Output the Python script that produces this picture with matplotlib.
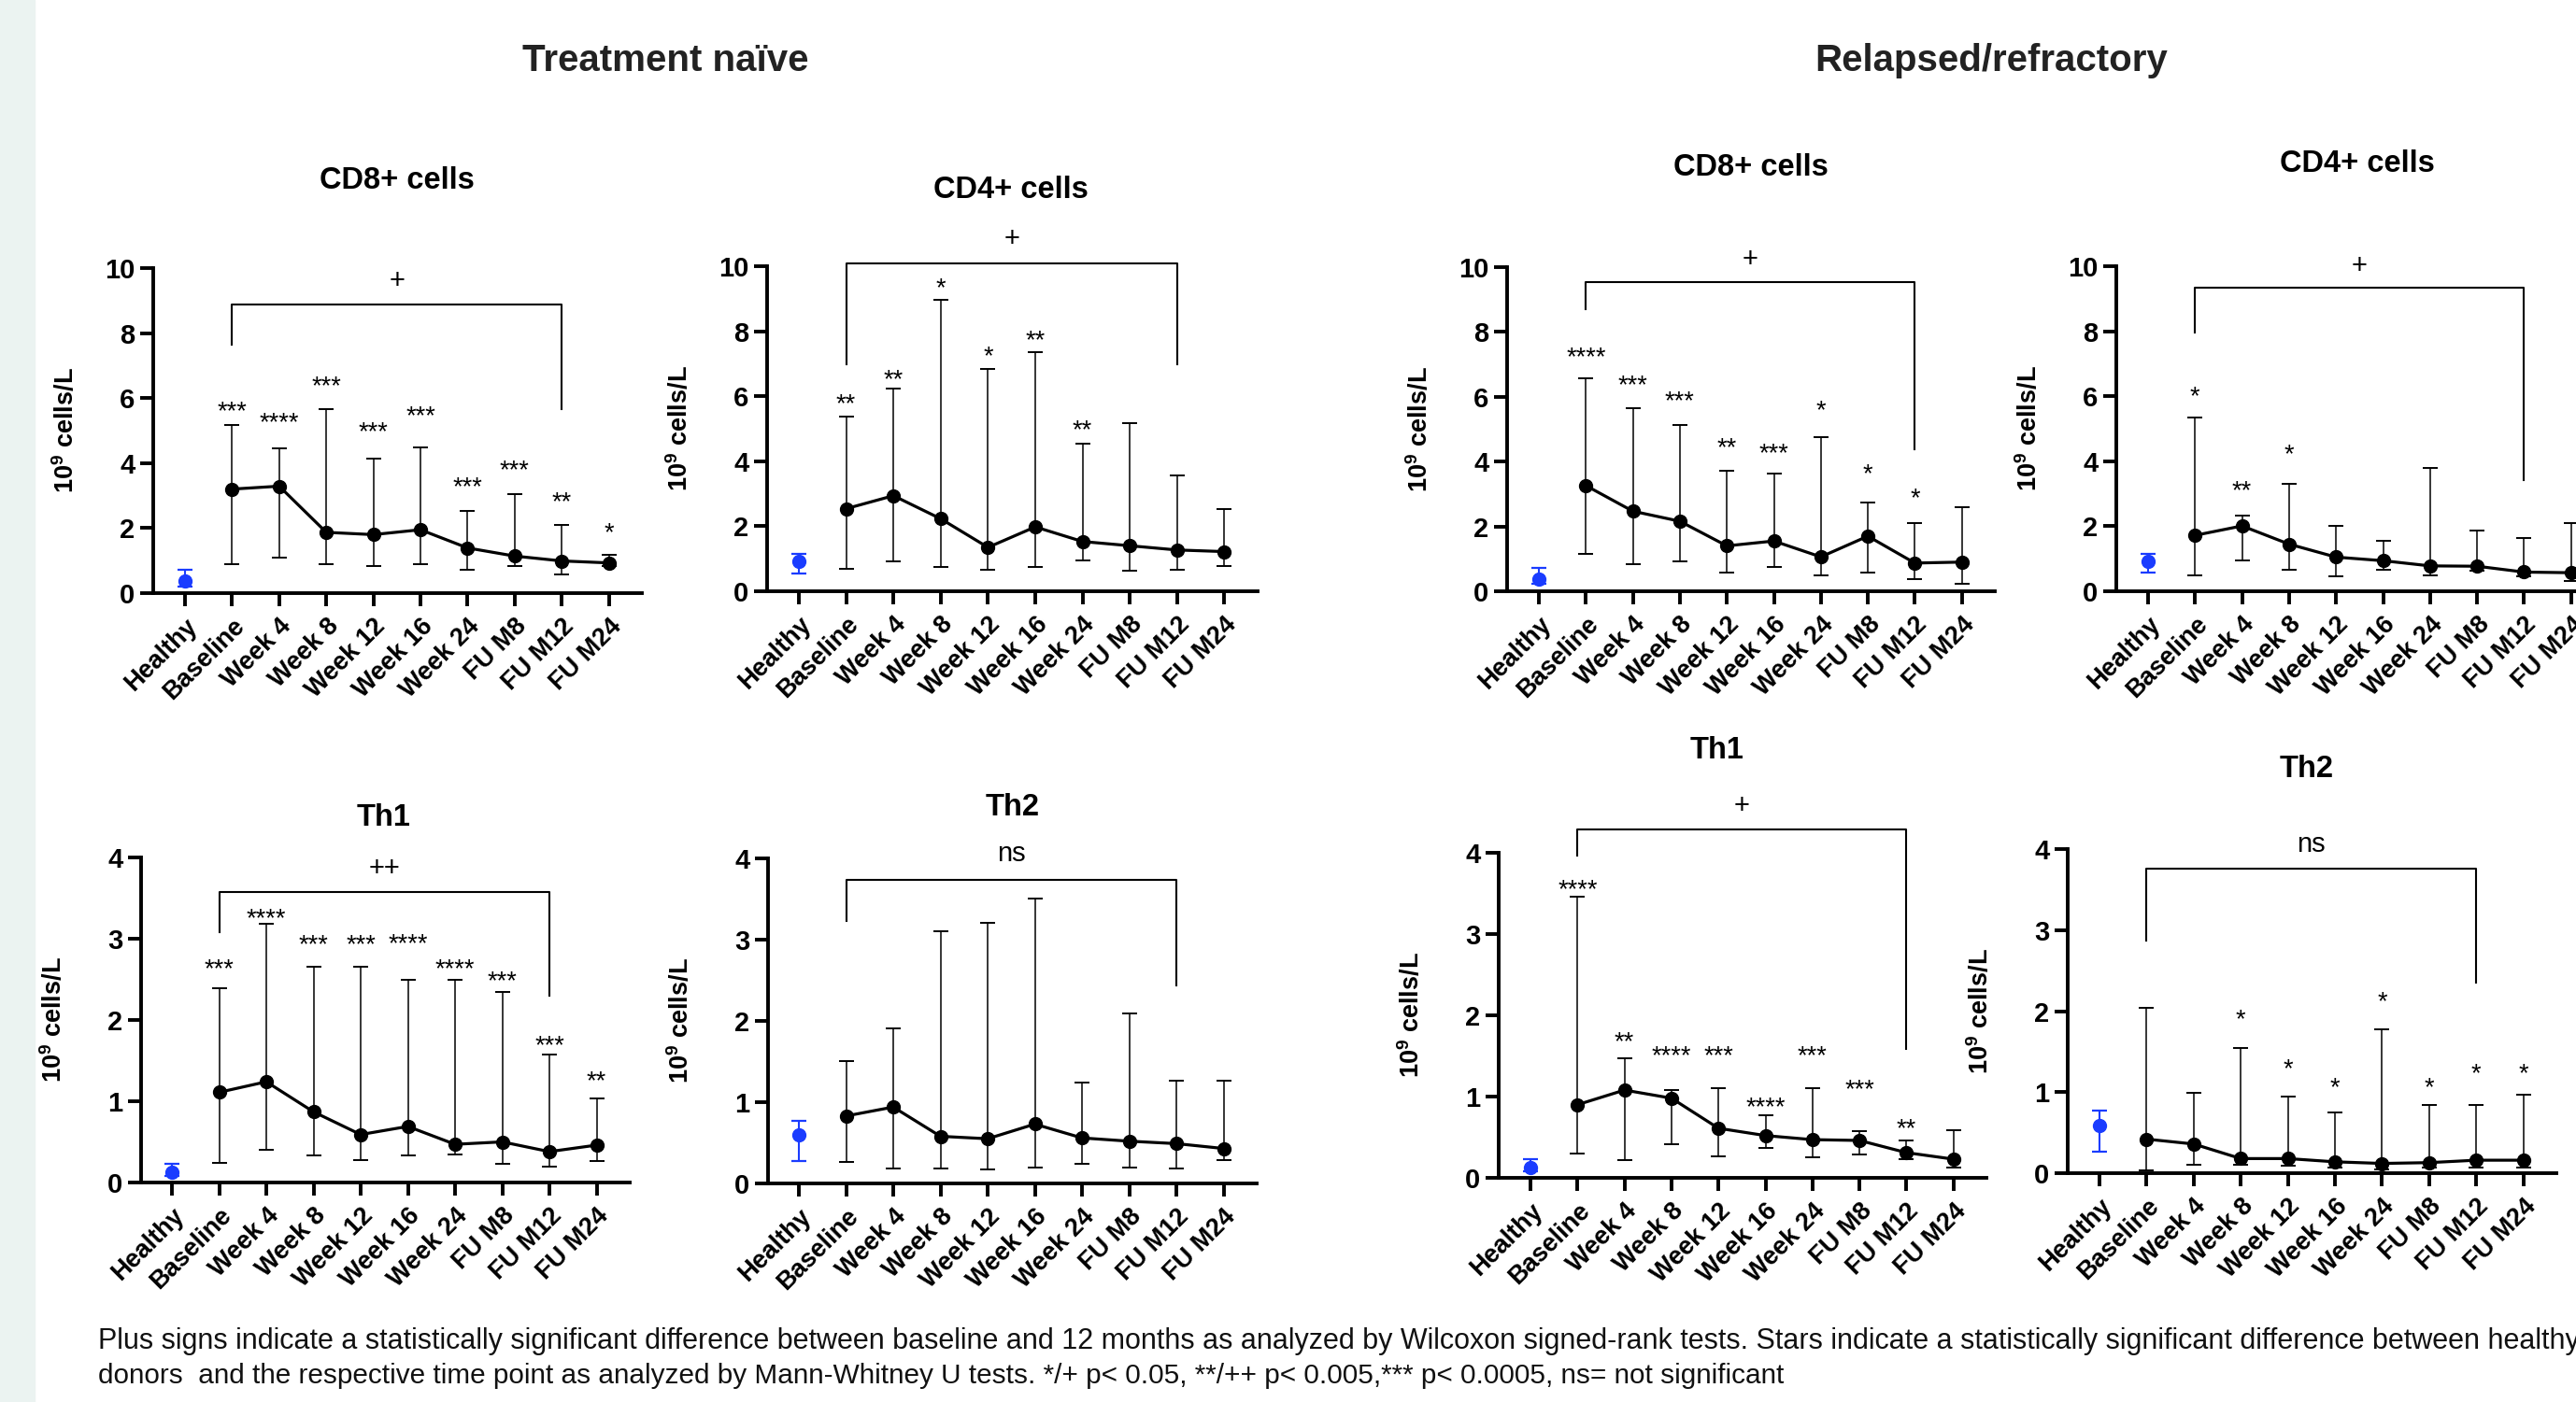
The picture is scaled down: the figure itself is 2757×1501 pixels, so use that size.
import numpy as np
import matplotlib.pyplot as plt
from matplotlib.patches import Rectangle

plt.rcParams['font.family'] = ['Liberation Sans', 'DejaVu Sans']
plt.rcParams['mathtext.fontset'] = 'custom'
plt.rcParams['mathtext.rm'] = 'Liberation Sans'
plt.rcParams['mathtext.bf'] = 'Liberation Sans:bold'

W, H = 2757, 1501
BLUE = '#1a3cff'

timepoints = ['Healthy', 'Baseline', 'Week 4', 'Week 8', 'Week 12', 'Week 16',
              'Week 24', 'FU M8', 'FU M12', 'FU M24']

# ---- Treatment naive ----
tn_cd8_med = [0.36, 3.20, 3.29, 1.87, 1.80, 1.95, 1.39, 1.14, 0.99, 0.93]
tn_cd8_lo = [0.20, 0.89, 1.10, 0.89, 0.82, 0.89, 0.72, 0.84, 0.57, 0.82]
tn_cd8_hi = [0.71, 5.17, 4.46, 5.66, 4.13, 4.48, 2.54, 3.04, 2.09, 1.19]
tn_cd8_stars = ['', '***', '****', '***', '***', '***', '***', '***', '**', '*']
tn_cd8_star_y = [0, 5.82, 5.46, 6.59, 5.17, 5.67, 3.48, 3.99, 3.02, 2.07]

tn_cd4_med = [0.91, 2.54, 2.94, 2.23, 1.35, 1.98, 1.53, 1.40, 1.27, 1.22]
tn_cd4_lo = [0.56, 0.69, 0.91, 0.74, 0.67, 0.76, 0.94, 0.64, 0.66, 0.79]
tn_cd4_hi = [1.14, 5.36, 6.25, 8.97, 6.84, 7.36, 4.53, 5.18, 3.55, 2.54]
tn_cd4_stars = ['', '**', '**', '*', '*', '**', '**', '', '', '']
tn_cd4_star_y = [0, 5.98, 6.74, 9.55, 7.45, 7.94, 5.19, 0, 0, 0]

tn_th1_med = [0.13, 1.11, 1.24, 0.87, 0.59, 0.69, 0.47, 0.50, 0.38, 0.46]
tn_th1_lo = [0.08, 0.24, 0.40, 0.33, 0.28, 0.33, 0.35, 0.23, 0.20, 0.26]
tn_th1_hi = [0.23, 2.39, 3.18, 2.65, 2.65, 2.50, 2.49, 2.34, 1.57, 1.04]
tn_th1_stars = ['', '***', '****', '***', '***', '****', '****', '***', '***', '**']
tn_th1_star_y = [0, 2.71, 3.34, 3.01, 3.01, 3.02, 2.71, 2.56, 1.77, 1.34]

tn_th2_med = [0.60, 0.83, 0.94, 0.58, 0.55, 0.73, 0.56, 0.52, 0.49, 0.43]
tn_th2_lo = [0.28, 0.26, 0.18, 0.18, 0.17, 0.19, 0.24, 0.19, 0.18, 0.29]
tn_th2_hi = [0.77, 1.51, 1.91, 3.10, 3.21, 3.51, 1.24, 2.09, 1.27, 1.26]
tn_th2_stars = [''] * 10
tn_th2_star_y = [0] * 10

# ---- Relapsed/refractory ----
rr_cd8_med = [0.38, 3.26, 2.47, 2.16, 1.40, 1.55, 1.06, 1.70, 0.87, 0.90]
rr_cd8_lo = [0.22, 1.16, 0.83, 0.91, 0.58, 0.75, 0.49, 0.57, 0.38, 0.22]
rr_cd8_hi = [0.72, 6.58, 5.66, 5.12, 3.73, 3.63, 4.76, 2.74, 2.11, 2.59]
rr_cd8_stars = ['', '****', '***', '***', '**', '***', '*', '*', '*', '']
rr_cd8_star_y = [0, 7.43, 6.58, 6.09, 4.66, 4.47, 5.80, 3.85, 3.08, 0]

rr_cd4_med = [0.91, 1.72, 2.01, 1.45, 1.05, 0.94, 0.78, 0.77, 0.59, 0.57]
rr_cd4_lo = [0.57, 0.48, 0.94, 0.65, 0.46, 0.67, 0.48, 0.62, 0.45, 0.33]
rr_cd4_hi = [1.15, 5.34, 2.32, 3.30, 2.01, 1.56, 3.78, 1.87, 1.63, 2.11]
rr_cd4_stars = ['', '*', '**', '*', '', '', '', '', '', '']
rr_cd4_star_y = [0, 6.22, 3.30, 4.42, 0, 0, 0, 0, 0, 0]

rr_th1_med = [0.13, 0.90, 1.08, 0.98, 0.61, 0.52, 0.47, 0.46, 0.31, 0.23]
rr_th1_lo = [0.08, 0.30, 0.22, 0.41, 0.26, 0.37, 0.25, 0.29, 0.23, 0.13]
rr_th1_hi = [0.23, 3.46, 1.47, 1.08, 1.10, 0.77, 1.10, 0.58, 0.46, 0.59]
rr_th1_stars = ['', '****', '**', '****', '***', '****', '***', '***', '**', '']
rr_th1_star_y = [0, 3.64, 1.76, 1.59, 1.59, 0.96, 1.59, 1.17, 0.69, 0]

rr_th2_med = [0.59, 0.42, 0.36, 0.18, 0.18, 0.14, 0.12, 0.13, 0.16, 0.16]
rr_th2_lo = [0.27, 0.04, 0.10, 0.10, 0.09, 0.07, 0.05, 0.07, 0.07, 0.07]
rr_th2_hi = [0.77, 2.04, 0.99, 1.54, 0.94, 0.75, 1.78, 0.84, 0.84, 0.97]
rr_th2_stars = ['', '', '', '*', '*', '*', '*', '*', '*', '*']
rr_th2_star_y = [0, 0, 0, 1.99, 1.37, 1.14, 2.21, 1.14, 1.32, 1.32]

# baseline vs 12 months: label, label y, bracket top, left leg end, right leg end
tn_cd8_sig = ['+', 9.67, 8.88, 7.64, 5.67]
tn_cd4_sig = ['+', 10.89, 10.08, 6.97, 6.97]
tn_th1_sig = ['++', 3.89, 3.58, 3.08, 2.30]
tn_th2_sig = ['ns', 4.05, 3.74, 3.23, 2.44]
rr_cd8_sig = ['+', 10.28, 9.54, 8.70, 4.37]
rr_cd4_sig = ['+', 10.05, 9.35, 7.96, 3.42]
rr_th1_sig = ['+', 4.60, 4.29, 3.96, 1.59]
rr_th2_sig = ['ns', 4.05, 3.76, 2.87, 2.35]


def draw_panel(box, title, title_xy, ymax, med, lo, hi, stars, star_y, sig):
    yaxis_px, healthy_px, step, top_px, bot_px = box
    x0 = -(healthy_px - yaxis_px) / step
    x1 = 9.7
    ax = fig.add_axes([yaxis_px / W, 1 - bot_px / H,
                       (x1 - x0) * step / W, (bot_px - top_px) / H])
    x = np.arange(len(timepoints))
    med = np.array(med)
    lo = np.array(lo)
    hi = np.array(hi)

    ax.errorbar(x[1:], med[1:], yerr=[med[1:] - lo[1:], hi[1:] - med[1:]],
                fmt='-o', color='black', lw=2.3, ms=10, elinewidth=1.1,
                capsize=5.5, capthick=1.4, clip_on=False, zorder=3)
    ax.errorbar(x[:1], med[:1], yerr=[med[:1] - lo[:1], hi[:1] - med[:1]],
                fmt='o', color=BLUE, ms=10, elinewidth=1.5,
                capsize=5.5, capthick=1.6, clip_on=False, zorder=3)

    for xi, s, sy in zip(x, stars, star_y):
        if s:
            ax.annotate(s, (xi, sy), xytext=(0, -0.57 * 19.5), textcoords='offset points',
                        ha='center', va='baseline', fontsize=19.5, annotation_clip=False)

    label, label_y, top, left_end, right_end = sig
    ax.plot([1, 1, 8, 8], [left_end, top, top, right_end], color='black',
            lw=1.5, clip_on=False)
    off = 0.26 if 'n' in label else 0.35
    ax.annotate(label, (4.5, label_y), xytext=(0, -off * 21), textcoords='offset points',
                ha='center', va='baseline', fontsize=21, annotation_clip=False)

    ax.set_xlim(x0, x1)
    ax.set_ylim(0, ymax)
    ax.set_yticks(np.arange(0, ymax + 0.1, 2 if ymax > 5 else 1))
    ax.set_xticks(x)
    ax.set_xticklabels(timepoints, rotation=45, ha='right', va='top',
                       rotation_mode='anchor', fontweight='bold', fontsize=19.5)
    for lab in ax.get_yticklabels():
        lab.set_fontweight('bold')
        lab.set_fontsize(21)
    ax.tick_params(width=2.8, length=10, direction='out')
    ax.tick_params(axis='x', pad=6)
    ax.tick_params(axis='y', pad=4)
    for side in ['top', 'right']:
        ax.spines[side].set_visible(False)
    for side in ['left', 'bottom']:
        ax.spines[side].set_linewidth(2.8)
    ax.patch.set_visible(False)
    ax.set_ylabel(r'$\mathbf{10^9}$ cells/L', fontweight='bold', fontsize=19.5)
    ax.yaxis.set_label_coords(-79 / ((x1 - x0) * step), 0.5)
    fig.text(title_xy[0] / W, 1 - title_xy[1] / H, title, ha='center', va='center',
             fontsize=23.5, fontweight='bold')
    return ax


fig = plt.figure(figsize=(W / 100, H / 100), dpi=100)
fig.patches.append(Rectangle((0, 0), 37 / W, 1, transform=fig.transFigure,
                             color='#ebf3f1', zorder=0))

fig.text(712 / W, 1 - 65 / H, 'Treatment naïve', ha='center', va='center',
         fontsize=29, fontweight='bold', color='#222222')
fig.text(2131 / W, 1 - 65 / H, 'Relapsed/refractory', ha='center', va='center',
         fontsize=29, fontweight='bold', color='#222222')

draw_panel((164, 198, 50.4, 287, 635), 'CD8+ cells', (425, 193), 10,
           tn_cd8_med, tn_cd8_lo, tn_cd8_hi, tn_cd8_stars, tn_cd8_star_y, tn_cd8_sig)
draw_panel((821, 855, 50.6, 285, 633), 'CD4+ cells', (1082, 203), 10,
           tn_cd4_med, tn_cd4_lo, tn_cd4_hi, tn_cd4_stars, tn_cd4_star_y, tn_cd4_sig)
draw_panel((1613, 1647, 50.3, 286, 633), 'CD8+ cells', (1874, 180), 10,
           rr_cd8_med, rr_cd8_lo, rr_cd8_hi, rr_cd8_stars, rr_cd8_star_y, rr_cd8_sig)
draw_panel((2265, 2299, 50.3, 285, 633), 'CD4+ cells', (2523, 175), 10,
           rr_cd4_med, rr_cd4_lo, rr_cd4_hi, rr_cd4_stars, rr_cd4_star_y, rr_cd4_sig)
draw_panel((151, 184, 50.5, 918, 1266), 'Th1', (411, 875), 4,
           tn_th1_med, tn_th1_lo, tn_th1_hi, tn_th1_stars, tn_th1_star_y, tn_th1_sig)
draw_panel((822, 855, 50.5, 919, 1267), 'Th2', (1084, 864), 4,
           tn_th2_med, tn_th2_lo, tn_th2_hi, tn_th2_stars, tn_th2_star_y, tn_th2_sig)
draw_panel((1604, 1638, 50.3, 913, 1261), 'Th1', (1838, 804), 4,
           rr_th1_med, rr_th1_lo, rr_th1_hi, rr_th1_stars, rr_th1_star_y, rr_th1_sig)
draw_panel((2213, 2247, 50.4, 909, 1256), 'Th2', (2469, 823), 4,
           rr_th2_med, rr_th2_lo, rr_th2_hi, rr_th2_stars, rr_th2_star_y, rr_th2_sig)

note1 = ('Plus signs indicate a statistically significant difference between baseline and '
         '12 months as analyzed by Wilcoxon signed-rank tests. Stars indicate a statistically '
         'significant difference between healthy')
note2 = ('donors  and the respective time point as analyzed by Mann-Whitney U tests. '
         '*/+ p< 0.05, **/++ p< 0.005,*** p< 0.0005, ns= not significant')
fig.text(105 / W, 1 - 1436 / H, note1, ha='left', va='center', fontsize=22.0, color='#111111')
fig.text(105 / W, 1 - 1473 / H, note2, ha='left', va='center', fontsize=21.4, color='#111111')

fig.savefig('out.png', dpi=100)
